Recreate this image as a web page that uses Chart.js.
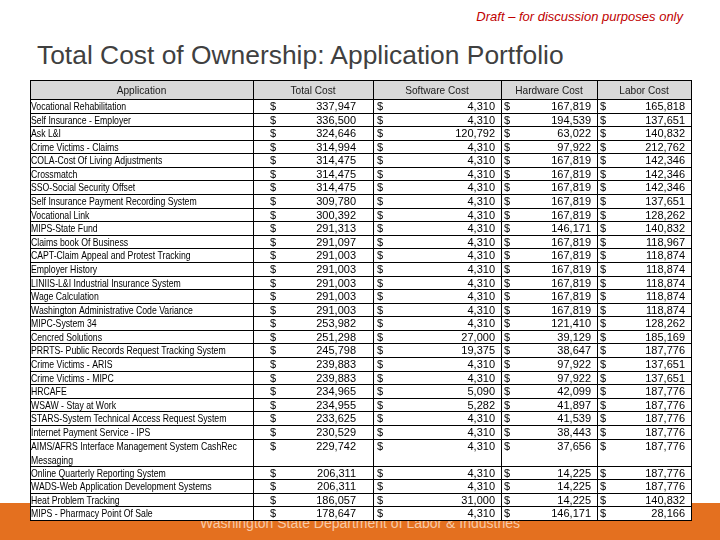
<!DOCTYPE html>
<html>
<head>
<meta charset="utf-8">
<script src="https://cdn.jsdelivr.net/npm/chart.js@4.4.1/dist/chart.umd.min.js"></script>
<style>
html, body { margin: 0; padding: 0; background: #fff; }
#page { position: relative; width: 720px; height: 540px; overflow: hidden; }
.band { position: absolute; left: 0; top: 503px; width: 720px; height: 37px; background: #e4701f; }
.footer { position: absolute; left: 0; top: 515px; width: 720px; text-align: center;
  font: 14px "Liberation Sans", Arial, sans-serif; color: #f7c9a6; }
.draft { position: absolute; right: 37px; top: 9px; font: italic 13px "Liberation Sans", Arial, sans-serif; color: #c00000; }
.title { position: absolute; left: 37px; top: 40px; font: 26.4px "Liberation Sans", Arial, sans-serif; color: #404040; }
#tco { position: absolute; left: 0; top: 0; }
</style>
</head>
<body>
<div id="page">
  <div class="band"></div>
  <div class="footer">Washington State Department of Labor &amp; Industries</div>
  <div class="draft">Draft – for discussion purposes only</div>
  <div class="title">Total Cost of Ownership: Application Portfolio</div>
  <canvas id="tco" width="720" height="540"></canvas>
</div>
<script>
const columnHeaders = ['Application', 'Total Cost', 'Software Cost', 'Hardware Cost', 'Labor Cost'];

const applications = [
  'Vocational Rehabilitation', 'Self Insurance - Employer', 'Ask L&I', 'Crime Victims - Claims',
  'COLA-Cost Of Living Adjustments', 'Crossmatch', 'SSO-Social Security Offset',
  'Self Insurance Payment Recording System', 'Vocational Link', 'MIPS-State Fund',
  'Claims book Of Business', 'CAPT-Claim Appeal and Protest Tracking', 'Employer History',
  'LINIIS-L&I Industrial Insurance System', 'Wage Calculation', 'Washington Administrative Code Variance',
  'MIPC-System 34', 'Cencred Solutions', 'PRRTS- Public Records Request Tracking System',
  'Crime Victims - ARIS', 'Crime Victims - MIPC', 'HRCAFE', 'WSAW - Stay at Work',
  'STARS-System Technical Access Request System', 'Internet Payment Service - IPS',
  ['AIMS/AFRS Interface Management System CashRec', 'Messaging'],
  'Online Quarterly Reporting System', 'WADS-Web Application Development Systems',
  'Heat Problem Tracking', 'MIPS - Pharmacy Point Of Sale'
];

const totalCost = [337947, 336500, 324646, 314994, 314475, 314475, 314475, 309780, 300392, 291313,
  291097, 291003, 291003, 291003, 291003, 291003, 253982, 251298, 245798, 239883,
  239883, 234965, 234955, 233625, 230529, 229742, 206311, 206311, 186057, 178647];

const softwareCost = [4310, 4310, 120792, 4310, 4310, 4310, 4310, 4310, 4310, 4310,
  4310, 4310, 4310, 4310, 4310, 4310, 4310, 27000, 19375, 4310,
  4310, 5090, 5282, 4310, 4310, 4310, 4310, 4310, 31000, 4310];

const hardwareCost = [167819, 194539, 63022, 97922, 167819, 167819, 167819, 167819, 167819, 146171,
  167819, 167819, 167819, 167819, 167819, 167819, 121410, 39129, 38647, 97922,
  97922, 42099, 41897, 41539, 38443, 37656, 14225, 14225, 14225, 146171];

const laborCost = [165818, 137651, 140832, 212762, 142346, 142346, 142346, 137651, 128262, 140832,
  118967, 118874, 118874, 118874, 118874, 118874, 128262, 185169, 187776, 137651,
  137651, 187776, 187776, 187776, 187776, 187776, 187776, 187776, 140832, 28166];

const costSeries = [totalCost, softwareCost, hardwareCost, laborCost];

// layout: column widths in x-scale units, dollar-sign offset and right padding per money column
const colWidths = [223, 120, 128, 96, 94];
const dollarOffset = [17, 4, 3, 3];
const rightPad = [17, 6, 6, 6];
const headerUnits = 1.4;
const nameSqueeze = 0.79;   // the source font is a narrow one, squeeze the names to match

const colEdges = [0];
colWidths.forEach(w => colEdges.push(colEdges[colEdges.length - 1] + w));
const rowLines = applications.map(a => Array.isArray(a) ? a.length : 1);
const rowEdges = [0, headerUnits];
rowLines.forEach(n => rowEdges.push(rowEdges[rowEdges.length - 1] + n));

const cellFont = '11px "Liberation Sans", Arial, sans-serif';

function squeezedText(ctx, text, x, y, sx) {
  ctx.save();
  ctx.translate(x, y);
  ctx.scale(sx, 1);
  ctx.fillText(text, 0, 0);
  ctx.restore();
}

const costTable = {
  id: 'costTable',
  afterDraw(chart) {
    const ctx = chart.ctx;
    const xs = chart.scales.x, ys = chart.scales.y;
    const px = v => Math.round(xs.getPixelForValue(v));
    const py = v => Math.round(ys.getPixelForValue(v));
    const left = px(0), right = px(colEdges[colEdges.length - 1]);
    const top = py(0), bottom = py(rowEdges[rowEdges.length - 1]);
    const unit = py(1) - py(0);

    ctx.save();
    ctx.fillStyle = '#ffffff';
    ctx.fillRect(left, top, right - left, bottom - top);
    ctx.fillStyle = '#d9d9d9';
    ctx.fillRect(left, top, right - left, py(headerUnits) - top);

    // grid
    ctx.strokeStyle = '#000000';
    ctx.lineWidth = 1;
    ctx.beginPath();
    rowEdges.forEach(r => { const y = py(r) + 0.5; ctx.moveTo(left, y); ctx.lineTo(right + 1, y); });
    colEdges.forEach(c => { const x = px(c) + 0.5; ctx.moveTo(x, top); ctx.lineTo(x, bottom + 1); });
    ctx.stroke();

    ctx.font = cellFont;
    ctx.textBaseline = 'middle';
    ctx.fillStyle = '#1a1a1a';

    // header
    ctx.textAlign = 'center';
    const hy = (py(0) + py(headerUnits)) / 2 + 1;
    columnHeaders.forEach((h, i) => {
      squeezedText(ctx, h, (px(colEdges[i]) + px(colEdges[i + 1])) / 2, hy, 0.92);
    });

    // rows
    ctx.fillStyle = '#000000';
    applications.forEach((app, r) => {
      const rTop = py(rowEdges[r + 1]);
      const lines = Array.isArray(app) ? app : [app];
      ctx.save();
      ctx.beginPath();
      ctx.rect(px(colEdges[0]) + 1, rTop, px(colEdges[1]) - px(colEdges[0]) - 1, py(rowEdges[r + 2]) - rTop);
      ctx.clip();
      ctx.textAlign = 'left';
      lines.forEach((ln, k) => squeezedText(ctx, ln, px(colEdges[0]) + 1, rTop + unit * (k + 0.5) + 1, nameSqueeze));
      ctx.restore();

      const y = rTop + unit * 0.5 + 1;
      costSeries.forEach((series, c) => {
        const cl = px(colEdges[c + 1]), cr = px(colEdges[c + 2]);
        ctx.textAlign = 'left';
        ctx.fillText('$', cl + dollarOffset[c], y);
        ctx.textAlign = 'right';
        ctx.fillText(series[r].toLocaleString('en-US'), cr - rightPad[c], y);
      });
    });
    ctx.restore();
  }
};

new Chart(document.getElementById('tco'), {
  type: 'scatter',
  data: { datasets: [] },
  options: {
    responsive: false,
    animation: false,
    layout: { padding: { left: 30, right: 29, top: 80, bottom: 20 } },
    scales: {
      x: { type: 'linear', display: false, min: 0, max: colEdges[colEdges.length - 1] },
      y: { type: 'linear', display: false, min: 0, max: rowEdges[rowEdges.length - 1], reverse: true }
    },
    plugins: { legend: { display: false }, tooltip: { enabled: false } }
  },
  plugins: [costTable]
});
</script>
</body>
</html>
